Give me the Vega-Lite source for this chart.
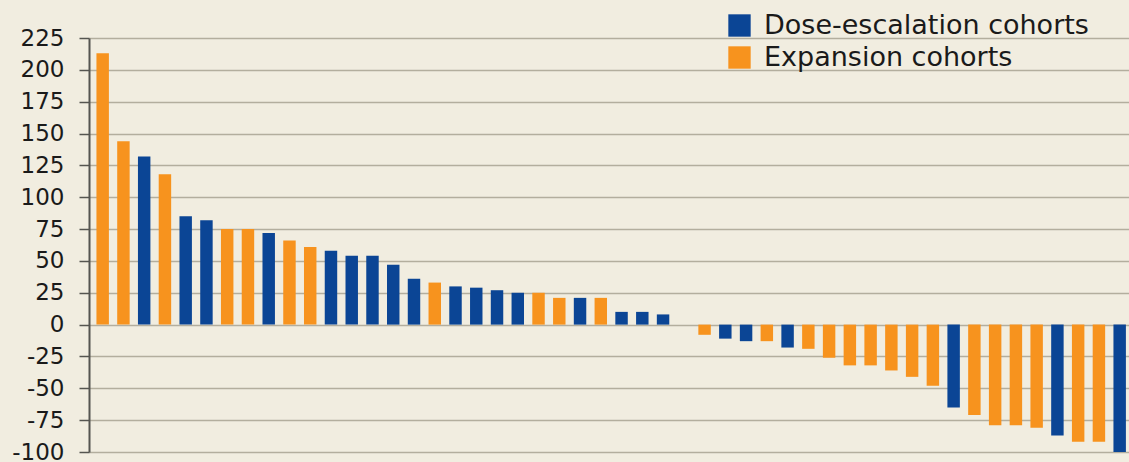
{
  "$schema": "https://vega.github.io/schema/vega-lite/v6.json",
  "autosize": "none",
  "padding": {"left": 89, "top": 38, "right": 0, "bottom": 10},
  "width": 1040,
  "height": 414,
  "background": "#f1ede0",
  "config": {
    "view": {"stroke": null},
    "font": "DejaVu Sans"
  },
  "data": {
    "values": [
      {"id": 1, "cohort": "Expansion cohorts", "value": 213},
      {"id": 2, "cohort": "Expansion cohorts", "value": 144},
      {"id": 3, "cohort": "Dose-escalation cohorts", "value": 132},
      {"id": 4, "cohort": "Expansion cohorts", "value": 118},
      {"id": 5, "cohort": "Dose-escalation cohorts", "value": 85},
      {"id": 6, "cohort": "Dose-escalation cohorts", "value": 82},
      {"id": 7, "cohort": "Expansion cohorts", "value": 75},
      {"id": 8, "cohort": "Expansion cohorts", "value": 75},
      {"id": 9, "cohort": "Dose-escalation cohorts", "value": 72},
      {"id": 10, "cohort": "Expansion cohorts", "value": 66},
      {"id": 11, "cohort": "Expansion cohorts", "value": 61},
      {"id": 12, "cohort": "Dose-escalation cohorts", "value": 58},
      {"id": 13, "cohort": "Dose-escalation cohorts", "value": 54},
      {"id": 14, "cohort": "Dose-escalation cohorts", "value": 54},
      {"id": 15, "cohort": "Dose-escalation cohorts", "value": 47},
      {"id": 16, "cohort": "Dose-escalation cohorts", "value": 36},
      {"id": 17, "cohort": "Expansion cohorts", "value": 33},
      {"id": 18, "cohort": "Dose-escalation cohorts", "value": 30},
      {"id": 19, "cohort": "Dose-escalation cohorts", "value": 29},
      {"id": 20, "cohort": "Dose-escalation cohorts", "value": 27},
      {"id": 21, "cohort": "Dose-escalation cohorts", "value": 25},
      {"id": 22, "cohort": "Expansion cohorts", "value": 25},
      {"id": 23, "cohort": "Expansion cohorts", "value": 21},
      {"id": 24, "cohort": "Dose-escalation cohorts", "value": 21},
      {"id": 25, "cohort": "Expansion cohorts", "value": 21},
      {"id": 26, "cohort": "Dose-escalation cohorts", "value": 10},
      {"id": 27, "cohort": "Dose-escalation cohorts", "value": 10},
      {"id": 28, "cohort": "Dose-escalation cohorts", "value": 8},
      {"id": 30, "cohort": "Expansion cohorts", "value": -8},
      {"id": 31, "cohort": "Dose-escalation cohorts", "value": -11},
      {"id": 32, "cohort": "Dose-escalation cohorts", "value": -13},
      {"id": 33, "cohort": "Expansion cohorts", "value": -13},
      {"id": 34, "cohort": "Dose-escalation cohorts", "value": -18},
      {"id": 35, "cohort": "Expansion cohorts", "value": -19},
      {"id": 36, "cohort": "Expansion cohorts", "value": -26},
      {"id": 37, "cohort": "Expansion cohorts", "value": -32},
      {"id": 38, "cohort": "Expansion cohorts", "value": -32},
      {"id": 39, "cohort": "Expansion cohorts", "value": -36},
      {"id": 40, "cohort": "Expansion cohorts", "value": -41},
      {"id": 41, "cohort": "Expansion cohorts", "value": -48},
      {"id": 42, "cohort": "Dose-escalation cohorts", "value": -65},
      {"id": 43, "cohort": "Expansion cohorts", "value": -71},
      {"id": 44, "cohort": "Expansion cohorts", "value": -79},
      {"id": 45, "cohort": "Expansion cohorts", "value": -79},
      {"id": 46, "cohort": "Expansion cohorts", "value": -81},
      {"id": 47, "cohort": "Dose-escalation cohorts", "value": -87},
      {"id": 48, "cohort": "Expansion cohorts", "value": -92},
      {"id": 49, "cohort": "Expansion cohorts", "value": -92},
      {"id": 50, "cohort": "Dose-escalation cohorts", "value": -100}
    ]
  },
  "mark": {"type": "bar"},
  "encoding": {
    "x": {
      "field": "id",
      "type": "ordinal",
      "scale": {
        "domain": [1,2,3,4,5,6,7,8,9,10,11,12,13,14,15,16,17,18,19,20,21,22,23,24,25,26,27,28,29,30,31,32,33,34,35,36,37,38,39,40,41,42,43,44,45,46,47,48,49,50],
        "paddingInner": 0.4,
        "paddingOuter": 0.254,
        "align": 0.706
      },
      "axis": null
    },
    "y": {
      "field": "value",
      "type": "quantitative",
      "scale": {"domain": [-100, 225], "nice": false},
      "axis": {
        "title": null,
        "values": [-100,-75,-50,-25,0,25,50,75,100,125,150,175,200,225],
        "labelExpr": "'' + datum.value",
        "grid": true,
        "gridColor": "#b3ae9e",
        "gridWidth": 1.5,
        "gridOpacity": 1,
        "domainColor": "#555550",
        "domainWidth": 2,
        "tickColor": "#555550",
        "tickWidth": 1.5,
        "tickSize": 10,
        "labelFont": "DejaVu Sans",
        "labelFontSize": 23,
        "labelColor": "#1a1a1a",
        "labelPadding": 15
      }
    },
    "color": {
      "field": "cohort",
      "type": "nominal",
      "scale": {
        "domain": ["Dose-escalation cohorts", "Expansion cohorts"],
        "range": ["#0b4595", "#f7931e"]
      },
      "legend": {
        "title": null,
        "orient": "none",
        "legendX": 637,
        "legendY": -26,
        "padding": 0,
        "symbolType": "square",
        "symbolSize": 500,
        "symbolStrokeWidth": 0,
        "symbolOpacity": 1,
        "labelFont": "DejaVu Sans",
        "labelFontSize": 27,
        "labelColor": "#1a1a1a",
        "labelLimit": 500,
        "labelOffset": 11,
        "rowPadding": 4
      }
    }
  }
}
